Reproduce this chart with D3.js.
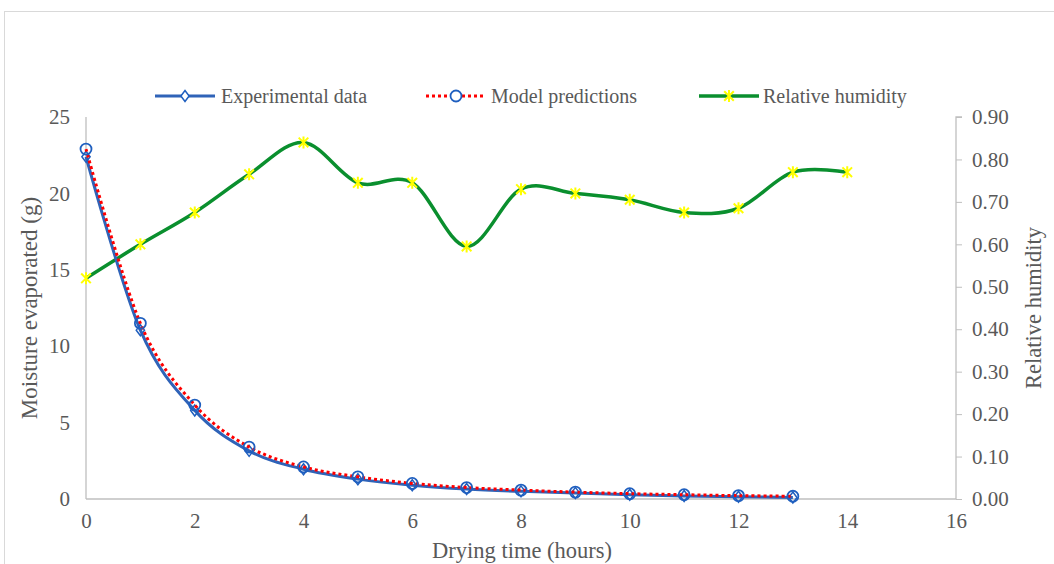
<!DOCTYPE html>
<html>
<head>
<meta charset="utf-8">
<script src="https://cdn.jsdelivr.net/npm/d3@7"></script>
<style>
  body { margin: 0; background: #fff; }
  text { font-family: "Liberation Serif", "Times New Roman", serif; fill: #595959; }
</style>
</head>
<body>
<div id="chart"></div>
<script>
var hours = [0, 1, 2, 3, 4, 5, 6, 7, 8, 9, 10, 11, 12, 13];
var rhHours = [0, 1, 2, 3, 4, 5, 6, 7, 8, 9, 10, 11, 12, 13, 14];
var experimental = [22.4, 11.05, 5.8, 3.15, 1.95, 1.3, 0.9, 0.65, 0.5, 0.4, 0.28, 0.2, 0.15, 0.1];
var model = [22.9, 11.5, 6.15, 3.4, 2.1, 1.45, 1.02, 0.75, 0.58, 0.45, 0.35, 0.28, 0.22, 0.18];
var humidity = [0.52, 0.60, 0.675, 0.765, 0.84, 0.745, 0.745, 0.595, 0.73, 0.72, 0.705, 0.675, 0.685, 0.77, 0.77];
var xTicks = [0, 2, 4, 6, 8, 10, 12, 14, 16];
var leftTicks = [0, 5, 10, 15, 20, 25];
var rightTicks = [0, 0.1, 0.2, 0.3, 0.4, 0.5, 0.6, 0.7, 0.8, 0.9];

var width = 1054, height = 564;
var svg = d3.select('#chart').append('svg')
  .attr('width', width)
  .attr('height', height);

// outer chart frame
svg.append('rect')
  .attr('x', 4.5).attr('y', 11.5)
  .attr('width', 1100).attr('height', 600)
  .style('fill', 'none')
  .style('stroke', '#d9d9d9');

var x = d3.scaleLinear().domain([0, 16]).range([86, 956]);
var yL = d3.scaleLinear().domain([0, 25]).range([499, 117]);
var yR = d3.scaleLinear().domain([0, 0.9]).range([499, 117]);

// axes
var xAxis = svg.append('g')
  .attr('transform', 'translate(0,499)')
  .call(d3.axisBottom(x).tickValues(xTicks).tickSize(0).tickPadding(14));
var lAxis = svg.append('g')
  .attr('transform', 'translate(86,0)')
  .call(d3.axisLeft(yL).tickValues(leftTicks).tickSize(0).tickPadding(16));
var rAxis = svg.append('g')
  .attr('transform', 'translate(956,0)')
  .call(d3.axisRight(yR).tickValues(rightTicks).tickFormat(d3.format('.2f')).tickSize(6).tickPadding(10));

[xAxis, lAxis, rAxis].forEach(function(a) {
  a.select('.domain').style('stroke', '#bfbfbf').style('stroke-width', 1.3);
  a.selectAll('.tick line').style('stroke', '#bfbfbf');
  a.selectAll('text')
    .style('font-family', '"Liberation Serif", serif')
    .style('font-size', '21px')
    .style('fill', '#595959');
});
xAxis.select('.domain').attr('d', 'M86,0H956');
lAxis.select('.domain').attr('d', 'M0,499V117');
rAxis.select('.domain').attr('d', 'M6,117H0V499');

// axis titles
svg.append('text')
  .attr('transform', 'translate(37,308) rotate(-90)')
  .attr('text-anchor', 'middle')
  .style('font-size', '23px')
  .text('Moisture evaporated (g)');
svg.append('text')
  .attr('transform', 'translate(1041,308) rotate(-90)')
  .attr('text-anchor', 'middle')
  .style('font-size', '22.5px')
  .text('Relative humidity');
svg.append('text')
  .attr('x', 522).attr('y', 558)
  .attr('text-anchor', 'middle')
  .style('font-size', '22.5px')
  .text('Drying time (hours)');

var blue = '#2f63b8', markerBlue = '#1f5fbf', red = '#ff0000', green = '#0a8f2e', yellow = '#ffff00';

function smoothLine(ys) {
  return d3.line()
    .x(function(d) { return x(d[0]); })
    .y(function(d) { return ys(d[1]); })
    .curve(d3.curveCatmullRom.alpha(0));
}

function starPath(cx, cy, r) {
  var a = r * 0.8;
  return 'M' + cx + ',' + (cy - r) + 'V' + (cy + r) +
    'M' + (cx - a) + ',' + (cy - a) + 'L' + (cx + a) + ',' + (cy + a) +
    'M' + (cx - a) + ',' + (cy + a) + 'L' + (cx + a) + ',' + (cy - a);
}
function diamondPath(cx, cy, r) {
  return 'M' + cx + ',' + (cy - r) + 'L' + (cx + r * 0.75) + ',' + cy +
    'L' + cx + ',' + (cy + r) + 'L' + (cx - r * 0.75) + ',' + cy + 'Z';
}

var expData = hours.map(function(h, i) { return [h, experimental[i]]; });
var modData = hours.map(function(h, i) { return [h, model[i]]; });
var rhData = rhHours.map(function(h, i) { return [h, humidity[i]]; });

// relative humidity
svg.append('path')
  .attr('d', smoothLine(yR)(rhData))
  .style('fill', 'none').style('stroke', green).style('stroke-width', 3.5);
svg.selectAll('.rh-pt').data(rhData).enter().append('path')
  .attr('class', 'rh-pt')
  .attr('d', function(d) { return starPath(x(d[0]), yR(d[1]), 6); })
  .style('stroke', yellow).style('stroke-width', 2);

// experimental
svg.append('path')
  .attr('d', smoothLine(yL)(expData))
  .style('fill', 'none').style('stroke', blue).style('stroke-width', 3);
svg.selectAll('.exp-pt').data(expData).enter().append('path')
  .attr('class', 'exp-pt')
  .attr('d', function(d) { return diamondPath(x(d[0]), yL(d[1]), 5.5); })
  .style('fill', 'none').style('stroke', markerBlue).style('stroke-width', 1.5);

// model
svg.append('path')
  .attr('d', smoothLine(yL)(modData))
  .style('fill', 'none').style('stroke', red).style('stroke-width', 3)
  .style('stroke-dasharray', '3,3');
svg.selectAll('.mod-pt').data(modData).enter().append('circle')
  .attr('class', 'mod-pt')
  .attr('cx', function(d) { return x(d[0]); })
  .attr('cy', function(d) { return yL(d[1]); })
  .attr('r', 5.5)
  .style('fill', 'none').style('stroke', markerBlue).style('stroke-width', 1.8);

// legend
var legendY = 96;
var legend = [
  { name: 'Experimental data', x1: 155, x2: 215, text: 221 },
  { name: 'Model predictions', x1: 426, x2: 486, text: 491 },
  { name: 'Relative humidity', x1: 699, x2: 759, text: 763 }
];
var lg = svg.append('g');
lg.append('line').attr('x1', legend[0].x1).attr('x2', legend[0].x2)
  .attr('y1', legendY).attr('y2', legendY)
  .style('stroke', blue).style('stroke-width', 3);
lg.append('path').attr('d', diamondPath((legend[0].x1 + legend[0].x2) / 2, legendY, 5.5))
  .style('fill', '#fff').style('stroke', markerBlue).style('stroke-width', 1.5);
lg.append('line').attr('x1', legend[1].x1).attr('x2', legend[1].x2)
  .attr('y1', legendY).attr('y2', legendY)
  .style('stroke', red).style('stroke-width', 3).style('stroke-dasharray', '3,3');
lg.append('circle').attr('cx', (legend[1].x1 + legend[1].x2) / 2).attr('cy', legendY).attr('r', 5.5)
  .style('fill', '#fff').style('stroke', markerBlue).style('stroke-width', 1.8);
lg.append('line').attr('x1', legend[2].x1).attr('x2', legend[2].x2)
  .attr('y1', legendY).attr('y2', legendY)
  .style('stroke', green).style('stroke-width', 3.5);
lg.append('path').attr('d', starPath((legend[2].x1 + legend[2].x2) / 2, legendY, 6))
  .style('stroke', yellow).style('stroke-width', 2);
legend.forEach(function(l) {
  lg.append('text').attr('x', l.text).attr('y', legendY + 7)
    .style('font-size', '20px')
    .text(l.name);
});
</script>
</body>
</html>
